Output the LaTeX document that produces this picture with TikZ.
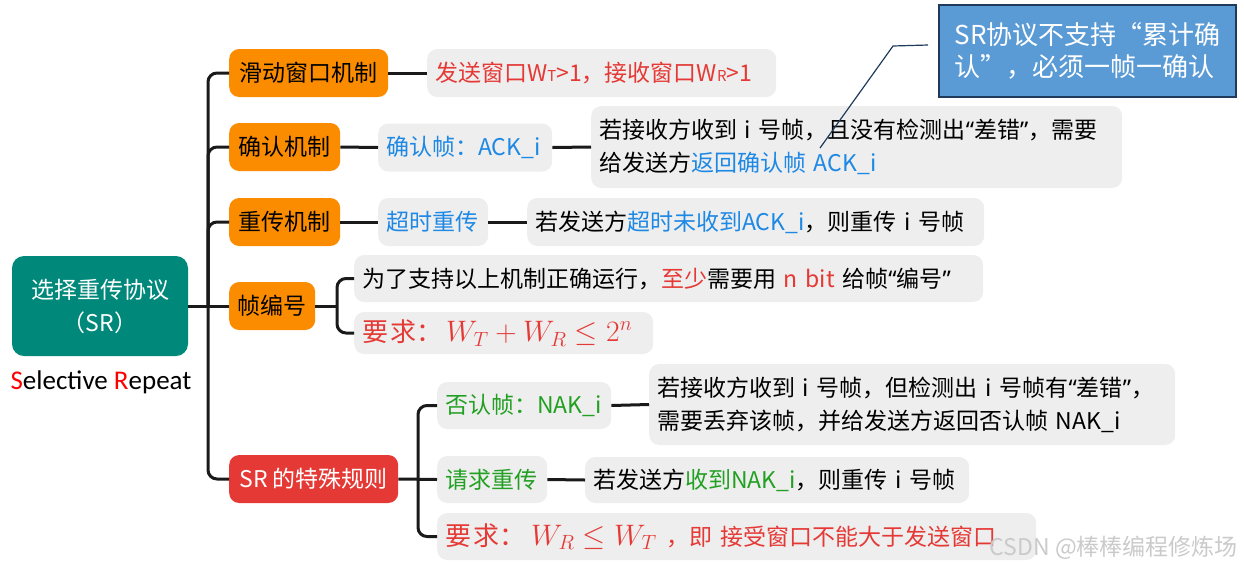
\documentclass[tikz,border=0pt]{standalone}
\usepackage{graphicx}
\usepackage{fontspec}
\setmainfont{Noto Sans CJK SC}
\newfontfamily\latf{Carlito}
\newfontfamily\qf{Noto Sans}
\definecolor{lineblack}{HTML}{1A1A1A}
\definecolor{tealroot}{HTML}{00897B}
\definecolor{orangebr}{HTML}{FB8C00}
\definecolor{redbr}{HTML}{E53935}
\definecolor{gbox}{HTML}{EEEEEE}
\definecolor{tred}{HTML}{E53935}
\definecolor{tblue}{HTML}{1E88E5}
\definecolor{tgreen}{HTML}{22A022}
\definecolor{cfill}{HTML}{5B9BD5}
\definecolor{cborder}{HTML}{203A5C}
\definecolor{wmark}{HTML}{CACACA}
\newcommand\fsz{\fontsize{23}{33}\selectfont}
\newcommand\smallsub[1]{{\fontsize{15}{15}\selectfont #1}}
\newcommand\oq{{\qf “}}
\newcommand\cq{{\qf ”}}
\newcommand\yq{{\fontsize{26}{30}\selectfont 要\hspace{2pt}求：}}
\newcommand\mathbig[1]{\scalebox{1.19}{$#1$}}
\begin{document}
\begin{tikzpicture}[x=1pt,y=-1pt,
  conn/.style={line width=3, draw=lineblack, rounded corners=9},
  branchbox/.style={fill=orangebr, rounded corners=10, minimum height=48, anchor=west, inner xsep=0, font=\fsz, text=black},
  leafbox/.style={fill=gbox, rounded corners=10, minimum height=47, anchor=west, inner xsep=8, inner ysep=0, align=left, font=\fsz, text=black},
]
\useasboundingbox (0,0) rectangle (1244,568);

% root
\node[fill=tealroot, rounded corners=12, minimum width=176, minimum height=100, text=white, align=center, font=\fsz, inner sep=0] (root) at (100,306) {选择重传协议\\（SR）};
\node[font=\latf\fontsize{27}{30}\selectfont, inner sep=0] (selrep) at (101,382) {{\color{red}S}elective {\color{red}R}epeat};

% branches
\node[branchbox, minimum width=159] (b1) at (229,73) {滑动窗口机制};
\node[branchbox, minimum width=111] (b2) at (229,147) {确认机制};
\node[branchbox, minimum width=111] (b3) at (229,222) {重传机制};
\node[branchbox, minimum width=86] (b4) at (229,306) {帧编号};
\node[branchbox, minimum width=169, fill=redbr, text=white] (b5) at (229,479) {SR 的特殊规则};

% leaves
\node[leafbox, text width=333, minimum height=48, text=tred] (l1) at (427,73) {发送窗口W\smallsub{T}>1，接收窗口W\smallsub{R}>1};
\node[leafbox, text width=158, minimum height=48, text=tblue] (l2a) at (378,147.5) {确认帧：ACK\_i};
\node[leafbox, text width=515, minimum height=82] (l2b) at (591,147) {若接收方收到 i 号帧，且没有检测出\oq 差错\cq，需要\\给发送方\textcolor{tblue}{返回确认帧 ACK\_i}};
\node[leafbox, text width=94, minimum height=48, text=tblue] (l3a) at (378,222) {超时重传};
\node[leafbox, text width=441, minimum height=48] (l3b) at (527,222) {若发送方\textcolor{tblue}{超时未收到ACK\_i}，则重传 i 号帧};
\node[leafbox, text width=613] (l4a) at (354,278.5) {为了支持以上机制正确运行，\textcolor{tred}{至少}需要用 \textcolor{tred}{n bit} 给帧\oq 编号\cq};
\node[leafbox, text width=283, minimum height=42, text=tred] (l4b) at (354,333) {\yq\hspace{4pt}\mathbig{W_T+W_R\le 2^n}};
\node[leafbox, text width=158, text=tgreen] (l5a) at (437,405.5) {否认帧：NAK\_i};
\node[leafbox, text width=510, minimum height=81] (l5b) at (649,404.5) {若接收方收到 i 号帧，但检测出 i 号帧有\oq 差错\cq，\\需要丢弃该帧，并给发送方返回否认帧 NAK\_i};
\node[leafbox, text width=94, text=tgreen] (l5c) at (437,479.5) {请求重传};
\node[leafbox, text width=368, minimum height=46] (l5d) at (585,480) {若发送方\textcolor{tgreen}{收到NAK\_i}，则重传 i 号帧};
\node[leafbox, text width=583, text=tred] (l5e) at (437,536.5) {\yq\hspace{6pt}\mathbig{W_R\le W_T}\hspace{10pt}，即 接受窗口不能大于发送窗口};

% connectors
\coordinate (sp) at (208,306);
\draw[conn] (root.east) -- (b4.west);
\draw[conn] (sp) |- (b1.west);
\draw[conn] (sp) |- (b2.west);
\draw[conn] (sp) |- (b3.west);
\draw[conn] (sp) |- (b5.west);
\draw[conn] (b1.east) -- (l1.west);
\draw[conn] (b2.east) -- (l2a.west);
\draw[conn] (l2a.east) -- (l2b.west);
\draw[conn] (b3.east) -- (l3a.west);
\draw[conn] (l3a.east) -- (l3b.west);
\coordinate (br4) at (337,306);
\draw[conn] (b4.east) -- (br4);
\draw[conn] (br4) |- (l4a.west);
\draw[conn] (br4) |- (l4b.west);
\coordinate (br5) at (418,479.5);
\draw[conn] (b5.east) -- (l5c.west);
\draw[conn] (br5) |- (l5a.west);
\draw[conn] (br5) |- (l5e.west);
\draw[conn] (l5a.east) -- (l5b.west);
\draw[conn] (l5c.east) -- (l5d.west);

% callout
\node[fill=cfill, draw=cborder, line width=2, minimum width=297, minimum height=92, text=white, align=left, font=\fontsize{26}{32}\selectfont, inner sep=0] (call) at (1087.5,51) {SR协议不支持“累计确\\认”，必须一帧一确认};
\coordinate (c0) at (928,45);
\coordinate (c1) at (893,46);
\coordinate (c2) at (820,148);
\draw[cborder, line width=1.2] (c0) -- (c1) -- (c2);

% watermark
\node[text=wmark, font=\fontsize{23}{26}\selectfont, anchor=east, inner sep=0] (wm) at (1238,548) {CSDN @棒棒编程修炼场};
\end{tikzpicture}
\end{document}
